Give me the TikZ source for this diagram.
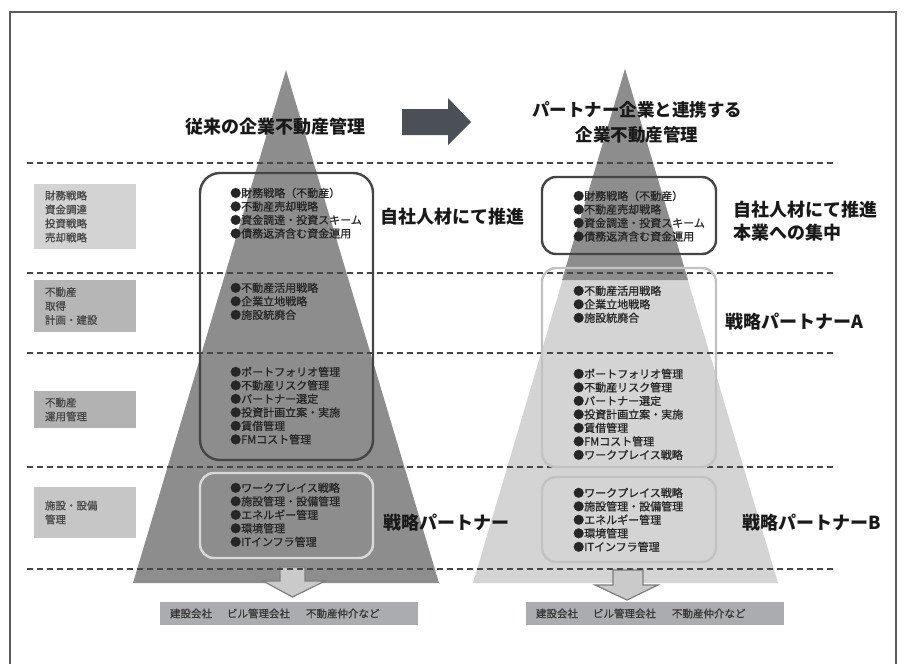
\documentclass[tikz,border=0pt]{standalone}
\usepackage{fontspec}
\setmainfont{Noto Sans CJK JP}
\newfontfamily\bulfont{Noto Sans CJK JP}[FakeBold=0.9]
\definecolor{pyrdark}{HTML}{8D8D8D}
\definecolor{pyrlight}{HTML}{D4D4D4}
\definecolor{framec}{HTML}{5A5A5A}
\definecolor{arrowc}{HTML}{4B5056}
\definecolor{boxdark}{HTML}{454545}
\definecolor{boxlight}{HTML}{D9D9D9}
\definecolor{boxlightb}{HTML}{C2C2C2}
\definecolor{catA}{HTML}{D3D3D3}
\definecolor{catB}{HTML}{B6B6B6}
\definecolor{catC}{HTML}{B2B2B2}
\definecolor{catD}{HTML}{C6C6C6}
\definecolor{botbox}{HTML}{ABACAF}
\definecolor{downfill}{HTML}{CACACA}
\definecolor{downline}{HTML}{7E7E7E}
\begin{document}
\begin{tikzpicture}[x=1pt,y=-1pt,
  dline/.style={draw=black!72, line width=1.3pt, dash pattern=on 6pt off 4pt},
  catbox/.style={fill=#1, minimum width=102pt, text width=80pt, inner xsep=11pt, align=left,
     font=\bulfont\fontsize{10.5}{14}\selectfont, text=black!72},
  bul/.style={anchor=north west, inner sep=0pt, align=left,
     font=\bulfont\fontsize{11}{13.5}\selectfont, text=black!85},
  biglabel/.style={inner sep=0pt, font=\fontsize{18}{23}\selectfont\bfseries, text=black!90},
  darkframe/.style={draw=boxdark, line width=2.4pt, rounded corners=20pt},
  lightframe/.style={draw=#1, line width=2.4pt, rounded corners=14pt},
  bottombox/.style={fill=botbox, minimum width=258pt, minimum height=23pt, text width=238pt,
     inner xsep=10pt, align=left, font=\bulfont\fontsize{10.5}{13}\selectfont, text=black!78},
  downarrow/.style={fill=downfill, draw=downline, line width=1.2pt}
]
\useasboundingbox (0,0) rectangle (905,664);
\fill[white] (0,0) rectangle (905,664);
% frame
\draw[framec, line width=1.2pt] (10,664) -- (10,12) -- (896,12) -- (896,664);

% pyramids
\fill[pyrdark] (286,70) -- (439,583) -- (133,583) -- cycle;
\fill[pyrlight] (625,69) -- (778,583) -- (473,583) -- cycle;
\fill[pyrdark] (625,69) -- (688,280) -- (562,280) -- cycle;

% down arrows
\draw[downarrow] (280,567) -- (305,567) -- (305,581) -- (325,581) -- (292.5,597) -- (263,581) -- (280,581) -- cycle;
\draw[downarrow] (613,570) -- (643,570) -- (643,585) -- (658,585) -- (627,600) -- (595,585) -- (613,585) -- cycle;

% top arrow
\fill[arrowc] (402,109) -- (448,109) -- (448,98) -- (471,122) -- (448,145) -- (448,135) -- (402,135) -- cycle;

% dashed lines
\coordinate (d1a) at (27,163); \coordinate (d1b) at (837,163);
\coordinate (d2a) at (27,273); \coordinate (d2b) at (837,273);
\coordinate (d3a) at (27,353); \coordinate (d3b) at (837,353);
\coordinate (d4a) at (27,467); \coordinate (d4b) at (837,467);
\coordinate (d5a) at (27,569); \coordinate (d5b) at (837,569);
\draw[dline] (d1a) -- (d1b);
\draw[dline] (d2a) -- (d2b);
\draw[dline] (d3a) -- (d3b);
\draw[dline] (d4a) -- (d4b);
\draw[dline] (d5a) -- (d5b);

% category boxes
\node[catbox=catA, minimum height=65pt] (cat1) at (85,216.5) {財務戦略\\資金調達\\投資戦略\\売却戦略};
\node[catbox=catB, minimum height=52pt] (cat2) at (85,306) {不動産\\取得\\計画・建設};
\node[catbox=catC, minimum height=37pt] (cat3) at (85,409.5) {不動産\\運用管理};
\node[catbox=catD, minimum height=51pt] (cat4) at (85,512.5) {施設・設備\\管理\\[3pt]};

% frames
\node[darkframe, minimum width=173pt, minimum height=287pt] (lframe1) at (286.5,316.5) {};
\node[lightframe=boxlight, minimum width=173pt, minimum height=85pt] (lframe2) at (286.5,515.5) {};
\node[darkframe, minimum width=174pt, minimum height=77pt, rounded corners=14pt] (rframe1) at (629,215.5) {};
\node[lightframe=boxlightb, minimum width=174pt, minimum height=199pt] (rframe2) at (629,367.5) {};
\node[lightframe=boxlightb, minimum width=174pt, minimum height=85pt] (rframe3) at (629,519.5) {};

% bullet lists left
\node[bul] (lb1) at (230,187.5) {●財務戦略（不動産）\\●不動産売却戦略\\●資金調達・投資スキーム\\●債務返済含む資金運用};
\node[bul] (lb2) at (230,282.5) {●不動産活用戦略\\●企業立地戦略\\●施設統廃合};
\node[bul] (lb3) at (230,366.5) {●ポートフォリオ管理\\●不動産リスク管理\\●パートナー選定\\●投資計画立案・実施\\●賃借管理\\●FMコスト管理};
\node[bul] (lb4) at (230,482.5) {●ワークプレイス戦略\\●施設管理・設備管理\\●エネルギー管理\\●環境管理\\●ITインフラ管理};

% bullet lists right
\node[bul] (rb1) at (573,190.5) {●財務戦略（不動産）\\●不動産売却戦略\\●資金調達・投資スキーム\\●債務返済含む資金運用};
\node[bul] (rb2) at (573,285.5) {●不動産活用戦略\\●企業立地戦略\\●施設統廃合};
\node[bul] (rb3) at (573,368.5) {●ポートフォリオ管理\\●不動産リスク管理\\●パートナー選定\\●投資計画立案・実施\\●賃借管理\\●FMコスト管理\\●ワークプレイス戦略};
\node[bul] (rb4) at (573,487.5) {●ワークプレイス戦略\\●施設管理・設備管理\\●エネルギー管理\\●環境管理\\●ITインフラ管理};

% titles and labels
\node[biglabel] (ltitle) at (275,127) {従来の企業不動産管理};
\node[biglabel, align=center, font=\fontsize{17.5}{25}\selectfont\bfseries] (rtitle) at (637,122.5) {パートナー企業と連携する\\企業不動産管理};
\node[biglabel, anchor=west] (lown) at (380,217) {自社人材にて推進};
\node[biglabel, anchor=north west, align=left] (rown) at (733,201) {自社人材にて推進\\本業への集中};
\node[biglabel, anchor=west] (rpa) at (725,322) {戦略パートナーA};
\node[biglabel, anchor=west] (lpart) at (383,523) {戦略パートナー};
\node[biglabel, anchor=west] (rpb) at (742,523) {戦略パートナーB};

% bottom boxes
\node[bottombox] (lbottom) at (289,613.5) {建設会社\hspace{15pt}ビル管理会社\hspace{16pt}不動産仲介など};
\node[bottombox] (rbottom) at (655,613.5) {建設会社\hspace{15pt}ビル管理会社\hspace{16pt}不動産仲介など};
\end{tikzpicture}
\end{document}
